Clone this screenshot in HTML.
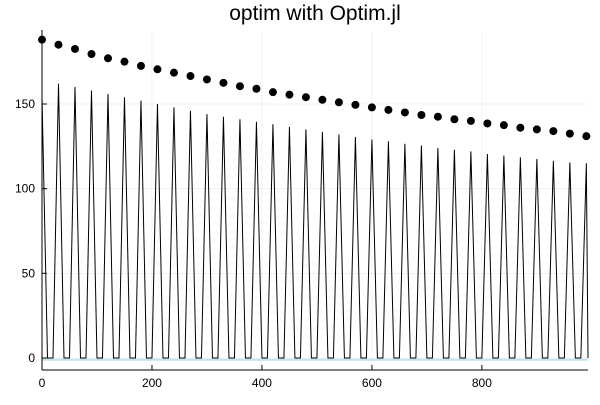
<!DOCTYPE html>
<html><head><meta charset="utf-8"><style>
body{margin:0;background:#fff;}
svg{font-family:"Liberation Sans","DejaVu Sans",sans-serif;}
</style></head><body>
<svg id="chart" width="600" height="400">
<text x="315" y="20" text-anchor="middle" font-size="21">optim with Optim.jl</text>
<g id="grid"></g><g id="marks"></g><g id="axes"></g>
</svg>
<script>
const dotX=[0,30,60,90,120,150,180,210,240,270,300,330,360,390,420,450,480,510,540,570,600,630,660,690,720,750,780,810,840,870,900,930,960,990];
const dotY=[188,185,182.5,179.5,177,175,172.5,170.5,168.5,166.5,164.5,162.5,160.5,159,157,155.5,154,152.5,151,149.5,148,146.5,145,143.5,142.5,141,140,138.5,137.5,136,135,134,132.5,131];
const peakY=[155,162,160,158,156,154,152,150,148,146,144,142.5,141,139.5,138,136.5,135,133.5,132,130.5,129,128,126.5,125.5,124,123,122,120.5,119.5,118.5,117.5,116.5,115.5,115];
const xTicks=[0,200,400,600,800];
const yTicks=[0,50,100,150];
const NS="http://www.w3.org/2000/svg";
const L=42,R=588,T=30,B=370;
const xs=v=>L+v*(R-L)/993;
const ys=v=>358-v*(358-104)/150;
const grid=document.getElementById('grid'),marks=document.getElementById('marks'),axes=document.getElementById('axes');
function mk(tag,attrs,parent){const e=document.createElementNS(NS,tag);for(const k in attrs)e.setAttribute(k,attrs[k]);parent.appendChild(e);return e;}
xTicks.forEach(t=>{
  const g=mk('line',{x1:xs(t),x2:xs(t),y1:T,y2:B,stroke:'#000','stroke-opacity':0.1,'stroke-width':0.5},grid);
  
  
  const tk=mk('line',{x1:xs(t),x2:xs(t),y1:B,y2:B-5,stroke:'#000'},axes);
  
  
  const tx=mk('text',{x:xs(t),y:B+17,'text-anchor':'middle','font-size':12},axes);
  tx.textContent=t;
  
  
});
yTicks.forEach(t=>{
  const g=mk('line',{x1:L,x2:R,y1:ys(t),y2:ys(t),stroke:'#000','stroke-opacity':0.1,'stroke-width':0.5},grid);
  
  
  const tk=mk('line',{x1:L,x2:L+5,y1:ys(t),y2:ys(t),stroke:'#000'},axes);
  
  
  const tx=mk('text',{x:L-7,y:ys(t)+4,'text-anchor':'end','font-size':12},axes);
  tx.textContent=t;
  
  
});
const xa=mk('line',{x1:L,x2:R,y1:B,y2:B,stroke:'#000'},axes);


const ya=mk('line',{x1:L,x2:L,y1:T,y2:B,stroke:'#000'},axes);


let d='';
dotX.forEach((x,i)=>{
  const p=peakY[i];
  if(i===0){d+=`M${xs(x)},${ys(p)} L${xs(x+10)},${ys(0)}`;}
  else{d+=` L${xs(x-10)},${ys(0)} L${xs(x)},${ys(p)} L${Math.min(xs(x+10),R)},${ys(0)}`;}
});
const base=mk('path',{d:`M${L},${ys(-1)} L${R},${ys(-1)}`,stroke:'#bfe3ec','stroke-width':2,fill:'none'},marks);


const saw=mk('path',{d:d,stroke:'#000','stroke-width':1,fill:'none','stroke-linejoin':'miter'},marks);


dotX.forEach((x,i)=>{
  const c=mk('circle',{cx:xs(x),cy:ys(dotY[i]),r:4,fill:'#000'},marks);
  
  
});
</script>
</body></html>
